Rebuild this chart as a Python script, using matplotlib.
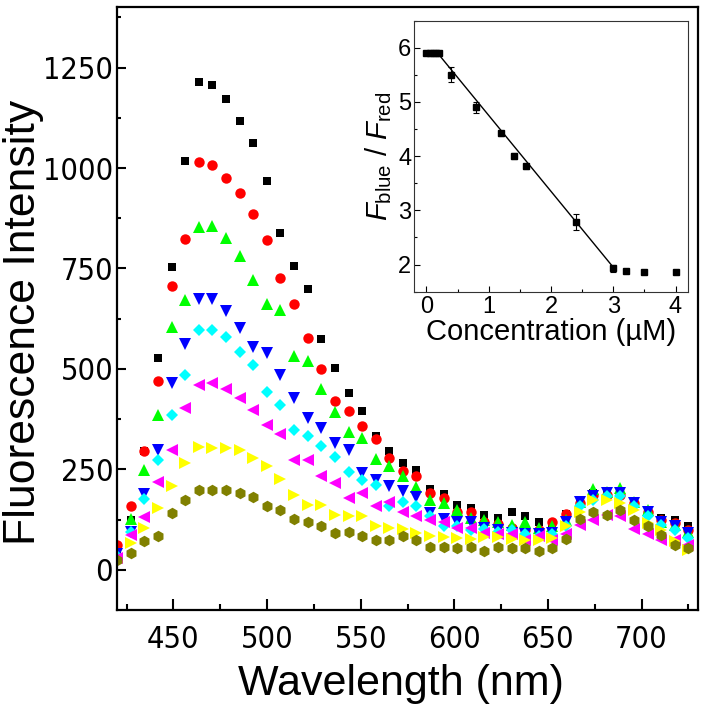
import matplotlib
matplotlib.use("Agg")
import matplotlib.pyplot as plt
from matplotlib.ticker import MultipleLocator
from matplotlib import font_manager as fm

plt.rcParams['mathtext.fontset'] = 'custom'
plt.rcParams['mathtext.rm'] = 'Liberation Sans'
plt.rcParams['mathtext.it'] = 'Liberation Sans:italic'
plt.rcParams['font.family'] = ['Liberation Sans', 'DejaVu Sans']

# ---------------- data ----------------
wavelength = [420.0, 427.3, 434.5, 441.8, 449.0, 456.3, 463.6, 470.8, 478.1, 485.4,
              492.6, 499.9, 507.1, 514.4, 521.7, 528.9, 536.2, 543.5, 550.7, 558.0,
              565.2, 572.5, 579.8, 587.0, 594.3, 601.5, 608.8, 616.1, 623.3, 630.6,
              637.9, 645.1, 652.4, 659.6, 666.9, 674.2, 681.4, 688.7, 696.0, 703.2,
              710.5, 717.7, 725.0]

s_black = [50, 125, 295, 528, 753, 1018, 1213, 1207, 1172, 1117, 1063, 967, 838, 755, 700,
           575, 503, 440, 395, 334, 295, 266, 249, 201, 189, 162, 154, 137, 130, 143,
           135, 120, 115, 140, 170, 191, 191, 191, 170, 150, 130, 125, 108]
s_red = [62, 160, 295, 469, 706, 823, 1016, 1007, 976, 939, 885, 820, 727, 661, 578,
         500, 421, 396, 357, 326, 278, 245, 233, 191, 179, 145, 145, 118, 113, 104,
         100, 100, 118, 140, 166, 185, 187, 187, 166, 145, 123, 116, 100]
s_green = [45, 126, 249, 386, 605, 671, 852, 856, 827, 782, 721, 661, 646, 532, 519,
           449, 393, 342, 328, 276, 258, 233, 205, 175, 166, 150, 130, 125, 118, 112,
           118, 105, 108, 125, 170, 201, 193, 204, 170, 150, 120, 112, 95]
s_blue = [40, 95, 189, 297, 465, 561, 673, 673, 644, 603, 555, 540, 484, 428, 378,
          353, 315, 297, 241, 224, 209, 195, 180, 141, 127, 120, 118, 105, 100, 92,
          88, 88, 92, 118, 170, 183, 191, 191, 166, 143, 118, 110, 91]
s_cyan = [35, 95, 177, 273, 385, 484, 598, 598, 580, 542, 509, 442, 411, 349, 332,
          307, 280, 243, 223, 212, 160, 170, 158, 133, 108, 110, 100, 102, 95, 100,
          88, 83, 88, 108, 158, 175, 183, 183, 158, 135, 112, 100, 80]
s_magenta = [30, 87, 131, 218, 299, 403, 459, 465, 450, 428, 399, 361, 337, 274, 274,
             234, 216, 179, 191, 158, 170, 145, 133, 125, 120, 105, 105, 92, 90, 88,
             75, 83, 75, 90, 112, 125, 137, 133, 102, 90, 75, 75, 62]
s_yellow = [20, 66, 104, 154, 209, 266, 306, 303, 302, 299, 278, 258, 226, 187, 162,
            162, 137, 133, 133, 108, 105, 102, 92, 85, 82, 80, 77, 82, 82, 77,
            73, 73, 80, 108, 145, 175, 173, 166, 150, 116, 100, 71, 50]
s_olive = [25, 42, 71, 83, 141, 175, 198, 198, 198, 191, 181, 160, 150, 126, 120,
           108, 91, 95, 85, 73, 73, 83, 73, 58, 57, 54, 57, 46, 57, 54,
           54, 48, 54, 76, 126, 143, 137, 150, 125, 110, 87, 62, 54]

series = [s_black, s_red, s_green, s_blue, s_cyan, s_magenta, s_yellow, s_olive]
colors = ['#000000', '#FF0000', '#00FF00', '#0000FF', '#00FFFF', '#FF00FF', '#FFFF00', '#808000']
markers = ['s', 'o', '^', 'v', 'D', '<', '>', 'h']
msizes = [6.3, 7.5, 8.5, 8.5, 6.0, 8.5, 8.5, 8.3]

conc = [0, 0.05, 0.1, 0.15, 0.2, 0.4, 0.8, 1.2, 1.4, 1.6, 2.4, 3.0, 3.2, 3.5, 4.0]
ratio = [5.9, 5.9, 5.9, 5.9, 5.9, 5.5, 4.9, 4.42, 4.0, 3.81, 2.79, 1.93, 1.89, 1.87, 1.86]
ratio_err = [0.02, 0.02, 0.02, 0.02, 0.02, 0.14, 0.1, 0.05, 0.05, 0.05, 0.15, 0.07, 0.03, 0.02, 0.02]
fit_x = [0.2, 3.0]
fit_y = [5.87, 1.95]

# ---------------- condensed font for main tick labels ----------------
def find_condensed():
    best = None
    for f in fm.fontManager.ttflist:
        narrow = ('Narrow' in f.name or 'Condensed' in f.name or
                  str(f.stretch) in ('condensed', 'semi-condensed', 'extra-condensed'))
        if not narrow or f.style != 'normal':
            continue
        if f.weight not in (400, 'normal', 'regular', 'book'):
            continue
        pri = 0 if 'Liberation' in f.name or 'Arial' in f.name else 1
        if best is None or pri < best[0]:
            best = (pri, f)
    return best[1] if best else None

cf = find_condensed()
if cf is not None:
    tick_fp = fm.FontProperties(fname=cf.fname, size=22)
else:
    tick_fp = fm.FontProperties(family='Liberation Sans', size=20)

# ---------------- figure ----------------
W, H = 706, 717
fig = plt.figure(figsize=(W / 100, H / 100), dpi=100)

ax = fig.add_axes([117.3 / W, 1 - 610 / H, (697.7 - 117.3) / W, (610 - 7.3) / H])
for y, c, m, ms in zip(series, colors, markers, msizes):
    ax.plot(wavelength, y, linestyle='none', marker=m, color=c, markersize=ms,
            markeredgewidth=0)

ax.set_xlim(420, 730)
ax.set_ylim(-100, 1400)
ax.set_xticks([450, 500, 550, 600, 650, 700])
ax.set_yticks([0, 250, 500, 750, 1000, 1250])
ax.xaxis.set_minor_locator(MultipleLocator(25))
ax.yaxis.set_minor_locator(MultipleLocator(125))
for sp in ax.spines.values():
    sp.set_linewidth(1.6)
ax.tick_params(axis='x', which='major', direction='in', length=7.7, width=1.5, pad=11)
ax.tick_params(axis='x', which='minor', direction='in', length=4.3, width=1.5)
ax.tick_params(axis='y', which='major', direction='in', length=6.3, width=1.5, pad=3)
ax.tick_params(axis='y', which='minor', direction='in', length=3.1, width=1.5)
for lab in ax.get_xticklabels() + ax.get_yticklabels():
    lab.set_fontproperties(tick_fp)

fig.text(401 / W, 1 - 695 / H, 'Wavelength (nm)', ha='center', va='baseline', fontsize=31)
fig.text(24 / W, 1 - 322 / H, 'Fluorescence Intensity', ha='center', va='center',
         rotation=90, fontsize=32)

# ---------------- inset ----------------
ins = fig.add_axes([414 / W, 1 - 291.7 / H, (688 - 414) / W, (291.7 - 20.5) / H])
ins.plot(fit_x, fit_y, color='black', linewidth=1.0)
ins.errorbar(conc, ratio, yerr=ratio_err, fmt='s', color='black', markersize=4,
             elinewidth=0.8, capsize=2.5, capthick=0.8)
ins.set_xlim(-0.2, 4.2)
ins.set_ylim(1.5, 6.5)
ins.set_xticks([0, 1, 2, 3, 4])
ins.set_yticks([2, 3, 4, 5, 6])
ins.xaxis.set_minor_locator(MultipleLocator(0.5))
ins.yaxis.set_minor_locator(MultipleLocator(0.5))
for sp in ins.spines.values():
    sp.set_linewidth(0.8)
    sp.set_color('#333333')
ins.tick_params(which='major', direction='in', length=4, width=0.8, labelsize=17)
ins.tick_params(which='minor', direction='in', length=2.2, width=0.8)
ins.tick_params(axis='x', pad=3)
ins.tick_params(axis='y', pad=2)
ins.set_xlabel('Concentration (\u00b5M)', fontsize=21, labelpad=0)
ins.set_ylabel(r'$F_{\mathrm{blue}}$ / $F_{\mathrm{red}}$', fontsize=21, labelpad=3)

fig.savefig('out.png', dpi=100)
